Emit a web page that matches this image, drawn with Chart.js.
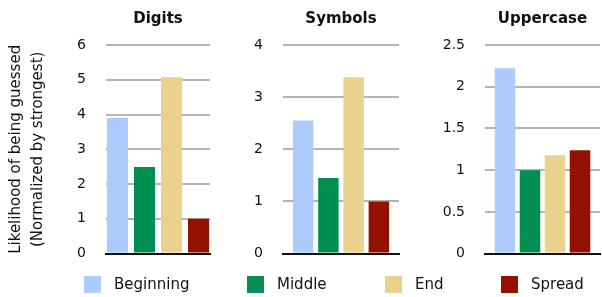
<!DOCTYPE html>
<html>
<head>
<meta charset="utf-8">
<script src="https://cdn.jsdelivr.net/npm/chart.js@4/dist/chart.umd.min.js"></script>
<style>
  body { margin:0; width:602px; height:297px; background:#fff; position:relative; overflow:hidden; font-family:"DejaVu Sans", sans-serif; }
  canvas { position:absolute; top:0; }
  .lg { position:absolute; top:276px; height:17px; }
  .lg i { position:absolute; left:0; top:0; width:17px; height:17px; }
  .lg span { position:absolute; top:-1px; font-size:15px; color:#111; white-space:nowrap; line-height:19px; }
</style>
</head>
<body>
<canvas id="c0" style="left:0px" width="215" height="282"></canvas>
<canvas id="c1" style="left:215px" width="189" height="282"></canvas>
<canvas id="c2" style="left:404px" width="198" height="282"></canvas>
<div id="legend"></div>
<script>
// series and panels
const series = ['Beginning', 'Middle', 'End', 'Spread'];
const colors = ['#ADCBFC', '#008F52', '#EAD28C', '#941100'];
const panels = ['Digits', 'Symbols', 'Uppercase'];
const digitsVals = [3.91, 2.49, 5.07, 1.0];
const symbolsVals = [2.55, 1.45, 3.38, 1.0];
const upperVals = [2.22, 1.0, 1.18, 1.24];
const yMax = [6, 4, 2.5];
const yStep = [1, 1, 0.5];

const values = [digitsVals, symbolsVals, upperVals];
// layout per panel: y axis width, right pad, category / bar percentage
const axisW = [106, 68, 81];
const padR = [5, 5, 2];
const catPct = [1.04, 0.87, 0.87];
const barPct = [0.78, 0.81, 0.82];

panels.forEach((name, p) => {
  new Chart(document.getElementById('c' + p), {
    type: 'bar',
    data: {
      labels: [''],
      datasets: series.map((s, i) => ({
        label: s,
        data: [values[p][i]],
        backgroundColor: colors[i],
        categoryPercentage: catPct[p],
        barPercentage: barPct[p]
      }))
    },
    options: {
      responsive: false,
      animation: false,
      layout: { padding: { left: 0, right: padR[p], top: 0, bottom: 0 } },
      scales: {
        x: {
          grid: { display: false, drawTicks: false },
          border: { display: true, color: '#111', width: 2 },
          ticks: { display: false }
        },
        top: {
          type: 'category',
          position: 'top',
          grid: { display: false, drawTicks: false },
          border: { display: false },
          ticks: { display: false },
          title: {
            display: true, text: name, color: '#111',
            font: { family: 'DejaVu Sans', size: 15, weight: 'bold' },
            padding: { top: 10, bottom: 17 }
          }
        },
        y: {
          min: 0, max: yMax[p],
          ticks: {
            stepSize: yStep[p], padding: 20, color: '#111',
            font: { family: 'DejaVu Sans', size: 14 },
            callback: v => String(v)
          },
          grid: { color: '#b4b4b4', lineWidth: 2, drawTicks: false },
          border: { display: false },
          title: {
            display: p === 0,
            text: ['Likelihood of being guessed', '(Normalized by strongest)'],
            color: '#111',
            font: { family: 'DejaVu Sans', size: 15, lineHeight: 1.47 },
            padding: { top: 5, bottom: 0 }
          },
          afterFit: (axis) => { axis.width = axisW[p]; }
        }
      },
      plugins: {
        legend: { display: false },
        tooltip: { enabled: false }
      }
    }
  });
});

// legend below the panels
const legX = [84, 247, 385, 501];
const lg = document.getElementById('legend');
series.forEach((s, i) => {
  const d = document.createElement('div');
  d.className = 'lg';
  d.style.left = legX[i] + 'px';
  d.innerHTML = '<i style="background:' + colors[i] + '"></i><span style="left:30px">' + s + '</span>';
  lg.appendChild(d);
});
</script>
</body>
</html>
